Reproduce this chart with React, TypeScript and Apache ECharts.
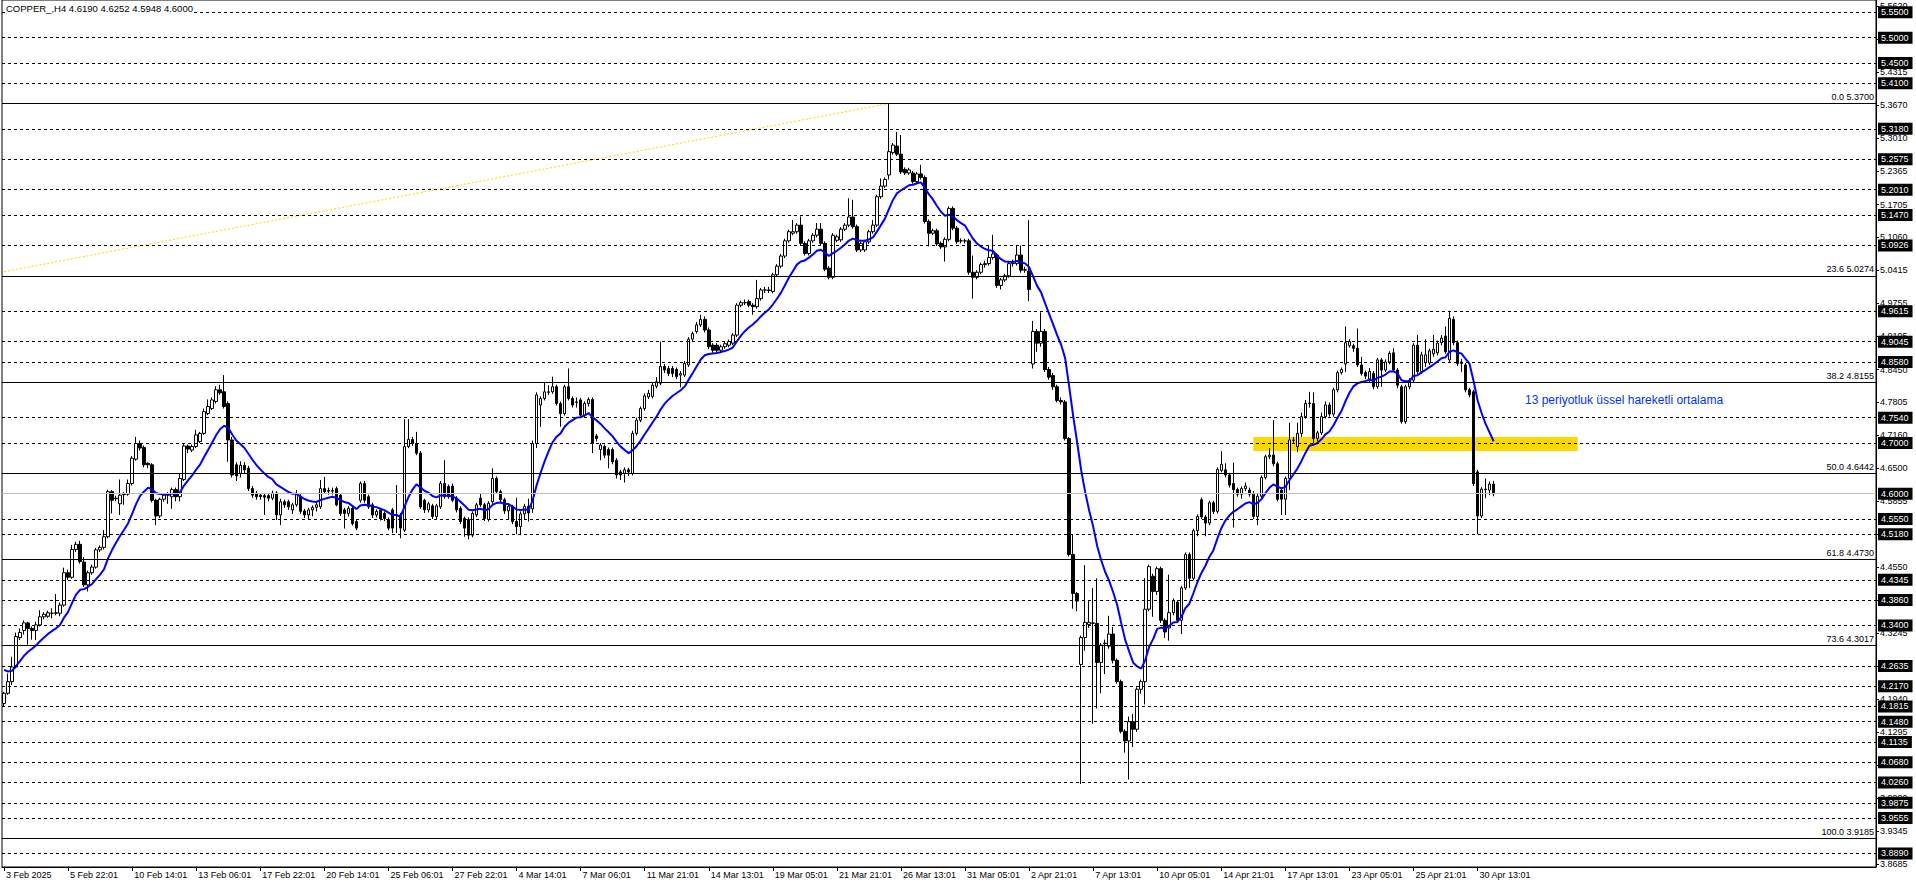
import React, { useEffect, useRef } from "react";
import * as echarts from "echarts";

// Each candle: [open, high, low, close]  (H4 bars)
const candlesEarlyFeb: number[][] = [
  [4.186,4.209,4.180,4.206],[4.206,4.245,4.203,4.229],[4.229,4.278,4.222,4.258],[4.258,4.326,4.255,4.318],
  [4.316,4.334,4.311,4.326],[4.330,4.350,4.322,4.345],[4.345,4.347,4.302,4.334],[4.334,4.338,4.312,4.330],
  [4.330,4.347,4.311,4.341],[4.341,4.370,4.338,4.357],[4.357,4.366,4.352,4.362],[4.358,4.369,4.355,4.365],
  [4.364,4.374,4.354,4.364],[4.364,4.402,4.360,4.365],[4.364,4.385,4.358,4.380],[4.380,4.454,4.377,4.444],
  [4.444,4.450,4.430,4.435],[4.435,4.499,4.432,4.490],[4.490,4.505,4.485,4.500],[4.500,4.507,4.462,4.466],
  [4.465,4.475,4.416,4.420],[4.420,4.448,4.407,4.444],[4.444,4.460,4.440,4.455],[4.455,4.493,4.452,4.489],
  [4.489,4.498,4.485,4.494],[4.494,4.528,4.490,4.515],[4.515,4.608,4.512,4.604],[4.604,4.607,4.561,4.587],
  [4.590,4.596,4.585,4.591],[4.580,4.628,4.558,4.597],[4.598,4.603,4.578,4.599],[4.599,4.628,4.596,4.620],
];
const candlesMidFeb: number[][] = [
  [4.620,4.674,4.616,4.670],[4.668,4.712,4.665,4.699],[4.699,4.705,4.685,4.690],[4.691,4.695,4.652,4.657],
  [4.660,4.662,4.650,4.657],[4.657,4.660,4.583,4.587],[4.587,4.590,4.538,4.556],[4.556,4.592,4.552,4.589],
  [4.589,4.601,4.584,4.597],[4.597,4.603,4.580,4.598],[4.594,4.612,4.570,4.608],[4.608,4.612,4.585,4.594],
  [4.594,4.640,4.585,4.630],[4.628,4.700,4.625,4.694],[4.694,4.697,4.680,4.688],[4.686,4.697,4.682,4.693],
  [4.693,4.726,4.690,4.716],[4.703,4.722,4.700,4.719],[4.719,4.768,4.716,4.762],[4.758,4.786,4.755,4.772],
  [4.768,4.790,4.765,4.785],[4.782,4.812,4.778,4.805],[4.805,4.815,4.795,4.799],[4.801,4.834,4.768,4.772],
  [4.778,4.782,4.663,4.706],[4.706,4.712,4.632,4.637],[4.657,4.662,4.625,4.635],[4.640,4.664,4.632,4.656],
  [4.656,4.662,4.640,4.647],[4.650,4.655,4.605,4.610],[4.610,4.615,4.592,4.597],[4.601,4.605,4.588,4.594],
  [4.597,4.600,4.588,4.594],[4.596,4.600,4.558,4.593],[4.596,4.600,4.585,4.591],[4.591,4.606,4.587,4.601],
  [4.601,4.605,4.548,4.558],[4.558,4.590,4.538,4.584],[4.584,4.588,4.572,4.578],[4.584,4.588,4.568,4.574],
  [4.568,4.582,4.560,4.578],[4.578,4.607,4.574,4.599],[4.594,4.599,4.560,4.565],[4.566,4.570,4.552,4.558],
  [4.558,4.572,4.548,4.568],[4.568,4.577,4.555,4.573],[4.573,4.582,4.565,4.578],[4.574,4.627,4.570,4.610],
  [4.610,4.633,4.600,4.604],[4.606,4.612,4.598,4.605],[4.605,4.612,4.598,4.606],[4.610,4.614,4.575,4.578],
  [4.597,4.600,4.556,4.561],[4.568,4.572,4.531,4.561],[4.561,4.575,4.555,4.571],[4.571,4.575,4.537,4.541],
  [4.545,4.548,4.528,4.532],
];
const candlesLateFeb: number[][] = [
  [4.587,4.624,4.582,4.620],[4.620,4.625,4.582,4.587],[4.594,4.598,4.570,4.574],[4.578,4.582,4.552,4.558],
  [4.558,4.569,4.553,4.565],[4.568,4.572,4.547,4.551],[4.561,4.565,4.546,4.551],[4.549,4.553,4.528,4.532],
  [4.568,4.572,4.522,4.532],[4.558,4.617,4.522,4.557],[4.558,4.562,4.512,4.532],[4.528,4.747,4.524,4.693],
  [4.693,4.747,4.690,4.707],[4.707,4.712,4.694,4.699],[4.699,4.722,4.676,4.680],[4.680,4.684,4.570,4.574],
  [4.587,4.590,4.562,4.568],[4.568,4.584,4.563,4.580],[4.576,4.580,4.550,4.555],[4.555,4.580,4.550,4.576],
  [4.574,4.625,4.570,4.620],[4.620,4.666,4.590,4.594],[4.614,4.618,4.590,4.594],[4.615,4.620,4.583,4.587],
  [4.591,4.595,4.563,4.568],[4.571,4.575,4.540,4.545],[4.551,4.555,4.515,4.532],[4.549,4.553,4.510,4.518],
  [4.518,4.565,4.514,4.561],[4.558,4.582,4.554,4.578],[4.591,4.601,4.574,4.578],[4.578,4.582,4.546,4.551],
  [4.549,4.585,4.545,4.581],[4.584,4.650,4.580,4.630],[4.630,4.634,4.600,4.604],[4.604,4.608,4.583,4.588],
  [4.588,4.592,4.560,4.566],[4.566,4.580,4.548,4.575],[4.575,4.578,4.540,4.545],[4.545,4.592,4.520,4.535],
  [4.535,4.565,4.518,4.560],[4.560,4.580,4.548,4.575],[4.575,4.590,4.545,4.562],
];
const candlesEarlyMar: number[][] = [
  [4.570,4.705,4.562,4.699],[4.699,4.800,4.690,4.795],[4.775,4.792,4.732,4.788],[4.788,4.819,4.784,4.801],
  [4.800,4.814,4.795,4.801],[4.801,4.831,4.797,4.811],[4.811,4.815,4.774,4.778],[4.778,4.782,4.732,4.758],
  [4.758,4.815,4.754,4.811],[4.811,4.847,4.784,4.788],[4.788,4.792,4.770,4.775],[4.781,4.790,4.770,4.780],
  [4.785,4.789,4.750,4.755],[4.755,4.782,4.750,4.778],[4.778,4.790,4.772,4.786],[4.786,4.790,4.680,4.699],
  [4.714,4.718,4.703,4.709],[4.687,4.700,4.666,4.696],[4.693,4.697,4.670,4.676],[4.687,4.691,4.650,4.676],
  [4.687,4.691,4.658,4.663],[4.666,4.670,4.630,4.637],[4.643,4.647,4.627,4.637],[4.640,4.652,4.622,4.647],
  [4.647,4.651,4.635,4.643],[4.640,4.724,4.636,4.719],[4.719,4.750,4.715,4.745],[4.745,4.772,4.741,4.768],
  [4.768,4.798,4.764,4.793],[4.791,4.805,4.787,4.798],[4.792,4.818,4.788,4.814],[4.812,4.830,4.808,4.821],
  [4.818,4.900,4.814,4.851],[4.851,4.856,4.838,4.844],[4.847,4.852,4.832,4.837],[4.847,4.852,4.830,4.837],
  [4.845,4.849,4.826,4.831],[4.834,4.842,4.810,4.837],[4.834,4.862,4.830,4.857],[4.854,4.909,4.850,4.905],
  [4.905,4.920,4.900,4.916],[4.920,4.939,4.916,4.933],[4.933,4.953,4.929,4.944],
];
const candlesLateMar: number[][] = [
  [4.944,4.950,4.918,4.923],[4.923,4.928,4.885,4.890],[4.893,4.897,4.878,4.883],[4.893,4.897,4.878,4.883],
  [4.883,4.894,4.879,4.890],[4.890,4.900,4.886,4.896],[4.893,4.904,4.889,4.900],[4.897,4.917,4.893,4.913],
  [4.913,4.976,4.909,4.972],[4.972,4.981,4.968,4.977],[4.977,4.983,4.972,4.977],[4.979,4.983,4.968,4.972],
  [4.972,4.976,4.953,4.969],[4.969,5.022,4.965,4.985],[4.985,5.006,4.981,5.002],[5.002,5.008,4.996,5.002],
  [5.002,5.008,4.996,5.001],[4.999,5.036,4.995,5.032],[5.032,5.053,5.028,5.049],[5.049,5.073,5.045,5.069],
  [5.069,5.103,5.065,5.099],[5.099,5.121,5.095,5.117],[5.114,5.140,5.110,5.117],[5.117,5.134,5.113,5.130],
  [5.130,5.147,5.090,5.094],[5.094,5.098,5.070,5.074],[5.074,5.103,5.070,5.099],[5.099,5.114,5.095,5.110],
  [5.110,5.134,5.106,5.122],[5.122,5.134,5.090,5.094],[5.094,5.098,5.039,5.043],[5.045,5.049,5.023,5.027],
  [5.027,5.114,5.023,5.110],[5.100,5.111,5.096,5.107],[5.101,5.126,5.097,5.122],[5.122,5.134,5.118,5.130],
  [5.130,5.183,5.126,5.146],[5.146,5.180,5.123,5.127],[5.127,5.131,5.077,5.081],[5.081,5.098,5.077,5.094],
  [5.081,5.101,5.077,5.097],[5.097,5.121,5.093,5.117],[5.117,5.140,5.113,5.130],[5.130,5.190,5.126,5.186],
  [5.186,5.222,5.182,5.207],[5.207,5.224,5.203,5.220],[5.229,5.370,5.220,5.275],
];
const candlesEarlyApr: number[][] = [
  [5.273,5.292,5.269,5.288],[5.286,5.314,5.266,5.270],[5.270,5.308,5.231,5.235],[5.240,5.244,5.229,5.233],
  [5.233,5.243,5.229,5.239],[5.233,5.237,5.212,5.216],[5.216,5.235,5.212,5.231],[5.231,5.249,5.220,5.224],
  [5.224,5.228,5.133,5.137],[5.137,5.141,5.088,5.114],[5.114,5.123,5.110,5.119],[5.119,5.123,5.089,5.093],
  [5.094,5.098,5.083,5.087],[5.087,5.106,5.058,5.102],[5.102,5.167,5.098,5.163],[5.163,5.167,5.120,5.124],
  [5.124,5.128,5.093,5.097],[5.099,5.104,5.094,5.099],[5.099,5.103,5.094,5.099],[5.099,5.103,5.032,5.037],
  [5.037,5.070,4.985,5.027],[5.027,5.041,5.023,5.037],[5.037,5.056,5.033,5.052],[5.052,5.060,5.046,5.054],
  [5.054,5.090,5.050,5.066],[5.066,5.111,5.062,5.073],[5.071,5.075,5.006,5.011],[5.011,5.026,5.003,5.022],
  [5.022,5.034,5.018,5.030],[5.030,5.058,5.026,5.054],[5.054,5.062,5.048,5.055],[5.054,5.090,5.050,5.071],
  [5.071,5.090,5.036,5.041],[5.041,5.048,5.036,5.042],[5.039,5.140,4.980,5.003],[4.856,4.941,4.847,4.920],
  [4.920,4.925,4.880,4.897],[4.897,4.958,4.890,4.920],[4.920,4.925,4.840,4.845],[4.845,4.850,4.825,4.830],
  [4.833,4.838,4.805,4.811],[4.811,4.815,4.780,4.784],[4.784,4.790,4.776,4.781],[4.781,4.785,4.705,4.709],
  [4.709,4.712,4.476,4.480],[4.480,4.520,4.373,4.403],[4.403,4.406,4.368,4.388],
];
const candlesMidApr: number[][] = [
  [4.263,4.320,4.027,4.316],[4.316,4.459,4.290,4.346],[4.342,4.388,4.335,4.346],[4.344,4.414,4.146,4.345],
  [4.344,4.433,4.176,4.267],[4.267,4.305,4.206,4.301],[4.304,4.312,4.244,4.305],[4.299,4.359,4.294,4.323],
  [4.323,4.337,4.265,4.271],[4.271,4.275,4.225,4.229],[4.229,4.233,4.127,4.131],[4.131,4.135,4.089,4.112],
  [4.112,4.160,4.036,4.150],[4.150,4.165,4.100,4.135],[4.135,4.218,4.130,4.214],[4.214,4.233,4.205,4.229],
  [4.229,4.433,4.184,4.372],[4.372,4.460,4.368,4.456],[4.437,4.442,4.357,4.407],[4.407,4.456,4.400,4.452],
  [4.452,4.456,4.345,4.350],[4.350,4.354,4.315,4.327],[4.335,4.440,4.310,4.365],[4.365,4.393,4.360,4.389],
  [4.386,4.390,4.345,4.350],[4.350,4.418,4.323,4.414],[4.414,4.484,4.410,4.480],[4.480,4.484,4.414,4.433],
  [4.433,4.531,4.429,4.527],[4.527,4.559,4.516,4.555],[4.588,4.592,4.550,4.554],[4.554,4.558,4.516,4.542],
  [4.542,4.586,4.538,4.582],[4.582,4.586,4.560,4.565],[4.565,4.652,4.561,4.648],[4.646,4.684,4.642,4.658],
];
const candlesLateApr: number[][] = [
  [4.647,4.660,4.632,4.637],[4.637,4.641,4.612,4.617],[4.620,4.661,4.533,4.608],[4.608,4.612,4.594,4.599],
  [4.599,4.614,4.590,4.610],[4.610,4.622,4.605,4.615],[4.607,4.612,4.594,4.599],[4.599,4.605,4.550,4.555],
  [4.555,4.600,4.538,4.595],[4.595,4.636,4.590,4.632],[4.632,4.677,4.628,4.673],[4.673,4.690,4.668,4.676],
  [4.676,4.745,4.654,4.659],[4.659,4.663,4.585,4.589],[4.607,4.612,4.558,4.589],[4.589,4.634,4.558,4.630],
  [4.630,4.740,4.607,4.706],[4.705,4.712,4.700,4.706],[4.693,4.740,4.682,4.719],[4.719,4.760,4.712,4.752],
  [4.752,4.785,4.748,4.778],[4.778,4.801,4.770,4.779],[4.778,4.800,4.700,4.709],[4.709,4.724,4.703,4.720],
  [4.720,4.760,4.716,4.752],[4.752,4.782,4.748,4.775],[4.775,4.780,4.752,4.757],[4.757,4.809,4.752,4.805],
  [4.805,4.843,4.800,4.839],[4.839,4.849,4.835,4.845],[4.856,4.930,4.840,4.898],[4.892,4.905,4.888,4.900],
  [4.892,4.896,4.880,4.887],[4.887,4.926,4.850,4.854],[4.854,4.870,4.833,4.837],[4.839,4.843,4.826,4.832],
  [4.826,4.848,4.820,4.841],[4.837,4.842,4.806,4.811],[4.811,4.868,4.807,4.864],[4.864,4.868,4.811,4.844],
  [4.844,4.865,4.840,4.860],[4.860,4.881,4.855,4.877],[4.878,4.887,4.840,4.844],[4.844,4.848,4.808,4.814],
  [4.811,4.815,4.738,4.742],[4.742,4.815,4.738,4.811],[4.811,4.828,4.806,4.824],[4.824,4.897,4.819,4.893],
  [4.893,4.913,4.836,4.841],[4.841,4.880,4.836,4.874],[4.858,4.905,4.850,4.874],[4.858,4.886,4.854,4.882],
  [4.876,4.913,4.870,4.885],[4.878,4.902,4.873,4.897],[4.898,4.913,4.893,4.907],[4.911,4.930,4.876,4.880],
  [4.864,4.961,4.860,4.946],[4.944,4.950,4.893,4.898],[4.898,4.902,4.852,4.857],[4.857,4.866,4.840,4.860],
  [4.854,4.858,4.800,4.805],[4.805,4.809,4.790,4.795],[4.801,4.805,4.615,4.620],[4.643,4.647,4.520,4.556],
  [4.556,4.613,4.552,4.609],[4.608,4.630,4.591,4.609],[4.607,4.624,4.597,4.619],[4.619,4.6252,4.5948,4.600],
];

const xLabels = [
  "3 Feb 2025", "5 Feb 22:01", "10 Feb 14:01", "13 Feb 06:01", "17 Feb 22:01", "20 Feb 14:01",
  "25 Feb 06:01", "27 Feb 22:01", "4 Mar 14:01", "7 Mar 06:01", "11 Mar 21:01", "14 Mar 13:01",
  "19 Mar 05:01", "21 Mar 21:01", "26 Mar 13:01", "31 Mar 05:01", "2 Apr 21:01", "7 Apr 13:01",
  "10 Apr 05:01", "14 Apr 21:01", "17 Apr 13:01", "23 Apr 05:01", "25 Apr 21:01", "30 Apr 13:01",
];
const barsPerLabel = 16;
const totalSlots = 468;

const priceTicks = [
  5.562, 5.4965, 5.4315, 5.367, 5.301, 5.2365, 5.1705, 5.106, 5.0415, 4.9755, 4.9105, 4.845, 4.7805,
  4.716, 4.65, 4.5855, 4.5205, 4.455, 4.39, 4.3245, 4.2595, 4.194, 4.1295, 4.0645, 3.999, 3.9345, 3.8685,
];
const userLevels = [
  5.55, 5.5, 5.45, 5.41, 5.318, 5.2575, 5.201, 5.147, 5.0926, 4.9615, 4.9045, 4.858, 4.754, 4.7,
  4.555, 4.518, 4.4345, 4.386, 4.34, 4.2635, 4.217, 4.1815, 4.148, 4.1135, 4.068, 4.026, 3.9875, 3.9555, 3.889,
];
const fiboRatios = [0.0, 23.6, 38.2, 50.0, 61.8, 73.6, 100.0];
const fiboPrices = [5.37, 5.0274, 4.8155, 4.6442, 4.473, 4.3017, 3.9185];
const currentPrice = 4.6;
const emaPeriod = 13;
const emaSeed = 4.26;
const fiboTrend = [[0, 5.038], [221, 5.37]];
const zone = { fromBar: 312, toBar: 393, top: 4.712, bottom: 4.684 };
const yMin = 3.8632;
const yMax = 5.5743;
const titleText = "COPPER_,H4 4.6190 4.6252 4.5948 4.6000";
const emaNote = "13 periyotluk üssel hareketli ortalama";

const FONT = "'Liberation Sans', Arial, sans-serif";

function buildOption() {
  const candles = [
    ...candlesEarlyFeb, ...candlesMidFeb, ...candlesLateFeb, ...candlesEarlyMar,
    ...candlesLateMar, ...candlesEarlyApr, ...candlesMidApr, ...candlesLateApr,
  ];
  const categories = Array.from({ length: totalSlots }, (_, i) => String(i));
  const kData = candles.map((c) => [c[0], c[3], c[2], c[1]]);
  const alpha = 2 / (emaPeriod + 1);
  const ema: number[] = [];
  let prev = emaSeed;
  candles.forEach((c) => {
    prev = prev + alpha * (c[3] - prev);
    ema.push(+prev.toFixed(5));
  });
  const showIdx = (i: number) => i % barsPerLabel === 0 && i / barsPerLabel < xLabels.length;

  const boxLabel = (v: number) => ({
    show: true,
    position: "end",
    distance: 2,
    formatter: v.toFixed(4),
    backgroundColor: "#000",
    color: "#fff",
    fontFamily: FONT,
    fontSize: 9,
    lineHeight: 10,
    padding: [1, 4, 1, 3],
  });

  const userLines = userLevels.map((v) => ({
    yAxis: v,
    lineStyle: { type: [3, 3], color: "#000", width: 1 },
    label: boxLabel(v),
  }));
  const fiboLines = fiboPrices.map((p, i) => ({
    yAxis: p,
    lineStyle: { type: "solid", color: "#000", width: 1 },
    label: {
      show: true,
      position: "insideEndTop",
      distance: 2,
      formatter: `${fiboRatios[i].toFixed(1)} ${p.toFixed(4)}`,
      color: "#000",
      fontFamily: FONT,
      fontSize: 9,
    },
  }));

  return {
    animation: false,
    backgroundColor: "#ffffff",
    grid: { left: 2, right: 40, top: 0, bottom: 21, show: true, borderColor: "#000", borderWidth: 1 },
    xAxis: {
      type: "category",
      data: categories,
      boundaryGap: true,
      axisLine: { show: true, lineStyle: { color: "#000", width: 1 } },
      axisTick: { show: true, interval: (i: number) => showIdx(i), alignWithLabel: true, length: 4, lineStyle: { color: "#000" } },
      axisLabel: {
        show: true,
        interval: (i: number) => showIdx(i),
        formatter: (_v: string, i: number) => xLabels[i / barsPerLabel] ?? "",
        align: "left",
        padding: [0, 0, 0, 2],
        margin: 3,
        color: "#000",
        fontFamily: FONT,
        fontSize: 9,
      },
      splitLine: { show: false },
    },
    yAxis: {
      type: "value",
      position: "right",
      min: yMin,
      max: yMax,
      scale: true,
      axisLine: { show: true, lineStyle: { color: "#000", width: 1 } },
      axisTick: { show: true, customValues: priceTicks, length: 3, lineStyle: { color: "#000" } },
      axisLabel: {
        show: true,
        customValues: priceTicks,
        formatter: (v: number) => v.toFixed(4),
        margin: 4,
        color: "#000",
        fontFamily: FONT,
        fontSize: 9,
      },
      splitLine: { show: false },
    },
    series: [
      {
        name: "levels",
        type: "line",
        data: [],
        z: 1,
        silent: true,
        markArea: {
          silent: true,
          itemStyle: { color: "#FFD700", opacity: 1 },
          data: [[{ xAxis: zone.fromBar, yAxis: zone.top }, { xAxis: zone.toBar, yAxis: zone.bottom }]],
        },
        markLine: {
          silent: true,
          symbol: ["none", "none"],
          animation: false,
          data: [
            ...userLines,
            ...fiboLines,
            { yAxis: currentPrice, lineStyle: { type: "solid", color: "#C0C0C0", width: 1 }, label: boxLabel(currentPrice) },
          ],
        },
      },
      {
        name: "fibo",
        type: "line",
        data: fiboTrend,
        z: 2,
        silent: true,
        showSymbol: false,
        symbol: "none",
        lineStyle: { color: "#FFD700", width: 1, type: [2, 2] },
      },
      {
        name: "COPPER_",
        type: "candlestick",
        data: kData,
        z: 3,
        barWidth: 3,
        silent: true,
        itemStyle: { color: "#ffffff", color0: "#000000", borderColor: "#000000", borderColor0: "#000000", borderWidth: 1 },
      },
      {
        name: "EMA13",
        type: "line",
        data: ema,
        z: 4,
        silent: true,
        showSymbol: false,
        symbol: "none",
        lineStyle: { color: "#0000FF", width: 2 },
      },
    ],
    graphic: [
      {
        type: "text",
        left: 6,
        top: 3,
        z: 100,
        style: { text: titleText, fill: "#000", font: `9.5px ${FONT}`, backgroundColor: "#fff" } as any,
      },
      {
        type: "text",
        left: 1525,
        top: 394,
        z: 100,
        style: { text: emaNote, fill: "#0033FF", font: `12px ${FONT}` },
      },
    ],
  };
}

export default function App() {
  const ref = useRef<HTMLDivElement>(null);
  useEffect(() => {
    document.body.style.margin = "0";
    const chart = echarts.init(ref.current as HTMLDivElement, null, { renderer: "svg" });
    chart.setOption(buildOption() as any);
    return () => chart.dispose();
  }, []);
  return (
    <div
      ref={ref}
      style={{ position: "absolute", left: 0, top: 0, width: 1916, height: 888, background: "#fff" }}
    />
  );
}
